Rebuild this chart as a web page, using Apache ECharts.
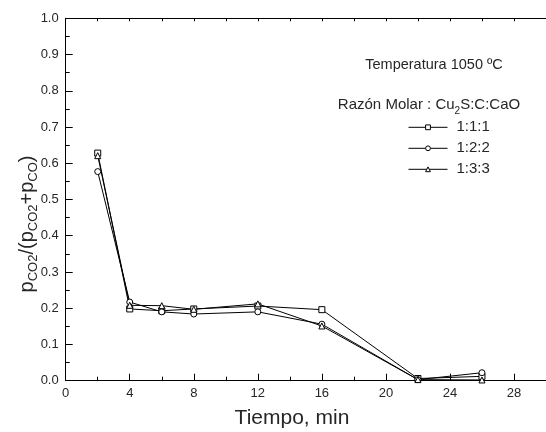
<!DOCTYPE html>
<html>
<head>
<meta charset="utf-8">
<script src="https://cdn.jsdelivr.net/npm/echarts@6/dist/echarts.min.js"></script>
<style>
  html, body { margin: 0; padding: 0; background: #fff; }
  #chart { width: 546px; height: 432px; }
</style>
</head>
<body>
<div id="chart"></div>
<script>
// Reaction time (min) and CO2 fraction for three molar ratios Cu2S:C:CaO at 1050 ºC
const timeMin = [2, 4, 6, 8, 12, 16, 22, 26];
const ratio111 = [0.628, 0.198, 0.193, 0.198, 0.206, 0.196, 0.006, 0.012];
const ratio122 = [0.577, 0.217, 0.190, 0.184, 0.190, 0.156, 0.003, 0.022];
const ratio133 = [0.621, 0.208, 0.207, 0.197, 0.212, 0.151, 0.003, 0.002];
const seriesNames = ['1:1:1', '1:2:2', '1:3:3'];
const seriesSymbols = ['rect', 'circle', 'triangle'];
const seriesValues = [ratio111, ratio122, ratio133];
const yTicks = ['0.0','0.1','0.2','0.3','0.4','0.5','0.6','0.7','0.8','0.9','1.0'];

const FONT = "'Liberation Sans', Arial, sans-serif";
const INK = '#000';
const TXT = '#262626';

const chart = echarts.init(document.getElementById('chart'), null, { renderer: 'canvas' });

const series = seriesNames.map((name, k) => ({
  name: name,
  type: 'line',
  xAxisIndex: 0,
  yAxisIndex: 0,
  symbol: seriesSymbols[k],
  symbolSize: 6,
  showAllSymbol: true,
  animation: false,
  itemStyle: { color: '#fff', borderColor: INK, borderWidth: 1 },
  lineStyle: { color: INK, width: 1 },
  emphasis: { disabled: true },
  data: timeMin.map((t, i) => [t, seriesValues[k][i]])
}));

const option = {
  backgroundColor: '#fff',
  animation: false,
  grid: { left: 65.7, top: 18.3, right: -2.1, bottom: 51.3, containLabel: false },
  xAxis: [
    {
      type: 'value', position: 'bottom', min: 0, max: 30, interval: 4,
      axisLine: { lineStyle: { color: INK, width: 1 } },
      axisTick: { inside: true, length: 7, lineStyle: { color: INK, width: 1 } },
      minorTick: { show: true, splitNumber: 2, length: 4, lineStyle: { color: INK, width: 1 } },
      splitLine: { show: false },
      axisLabel: { showMaxLabel: false, margin: 6, fontSize: 13, fontFamily: FONT, color: TXT }
    },
    {
      type: 'value', position: 'top', min: 0, max: 30, interval: 2,
      axisLine: { lineStyle: { color: INK, width: 1 } },
      axisTick: { inside: true, length: 3, lineStyle: { color: INK, width: 1 } },
      splitLine: { show: false },
      axisLabel: { show: false }
    }
  ],
  yAxis: {
    type: 'value', min: 0, max: 1, interval: 0.1,
    axisLine: { show: true, lineStyle: { color: INK, width: 1 } },
    axisTick: { show: true, inside: true, length: 7, lineStyle: { color: INK, width: 1 } },
    minorTick: { show: true, splitNumber: 2, length: 4, lineStyle: { color: INK, width: 1 } },
    splitLine: { show: false },
    axisLabel: {
      margin: 7, fontSize: 13, fontFamily: FONT, color: TXT,
      formatter: (v) => yTicks[Math.round(v * 10)]
    }
  },
  legend: {
    data: seriesNames,
    orient: 'vertical',
    left: 408,
    top: 119.3,
    padding: 0,
    itemWidth: 39,
    itemHeight: 6,
    itemGap: 5,
    selectedMode: false,
    lineStyle: { width: 1, color: INK },
    itemStyle: { color: '#fff', borderColor: INK, borderWidth: 1 },
    textStyle: { fontSize: 15, lineHeight: 16, fontFamily: FONT, color: TXT, padding: [0, 0, 0, 4] }
  },
  graphic: [
    {
      type: 'text', x: 434, y: 65,
      style: { text: 'Temperatura 1050 ºC', fontSize: 14.5, fontFamily: FONT, fill: TXT, align: 'center', verticalAlign: 'middle' }
    },
    {
      type: 'text', x: 429, y: 105,
      style: {
        text: 'Razón Molar : Cu{s|2}S:C:CaO',
        fontSize: 15, fontFamily: FONT, fill: TXT, align: 'center', verticalAlign: 'middle',
        rich: {
          s: { fontSize: 10, fontFamily: FONT, fill: TXT, verticalAlign: 'top', lineHeight: 10, padding: [9, 0, 0, 0] }
        }
      }
    },
    {
      type: 'text', x: 292, y: 418,
      style: { text: 'Tiempo, min', fontSize: 21, fontFamily: FONT, fill: TXT, align: 'center', verticalAlign: 'middle' }
    },
    {
      type: 'text', x: 27, y: 224, rotation: Math.PI / 2,
      style: {
        text: 'p{s|CO2}/(p{s|CO2}+p{s|CO})',
        fontSize: 20, fontFamily: FONT, fill: TXT, align: 'center', verticalAlign: 'middle',
        rich: {
          s: { fontSize: 13, fontFamily: FONT, fill: TXT, verticalAlign: 'top', lineHeight: 13, padding: [10, 0, 0, 0] }
        }
      }
    }
  ],
  series: series
};

chart.setOption(option);
</script>
</body>
</html>
